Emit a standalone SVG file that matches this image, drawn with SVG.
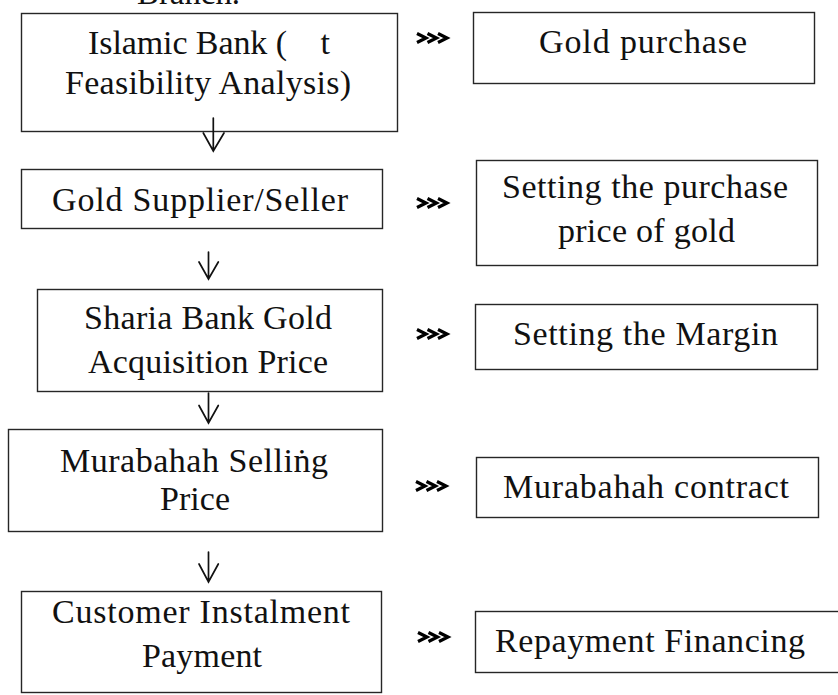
<svg xmlns="http://www.w3.org/2000/svg" width="838" height="695" viewBox="0 0 838 695">
<style>
  .box { fill: #ffffff; stroke: #262626; stroke-width: 1.4; }
  .t { font-family: "Liberation Serif", "Times New Roman", serif; font-size: 34px; fill: #111111; white-space: pre; }
  .arr { fill: none; stroke: #111111; stroke-width: 1.7; stroke-linecap: round; stroke-linejoin: miter; }
  .chev { fill: none; stroke: #000000; stroke-width: 3.2; stroke-linejoin: miter; }
</style>
<defs>
  <path id="triple" class="chev" d="M0,-4.5 L9,0 L0,4.5 M10.5,-4.5 L19.5,0 L10.5,4.5 M21,-4.5 L30,0 L21,4.5"/>
</defs>
<rect width="838" height="695" fill="#ffffff"/>

<text id="top-cut" class="t" x="137" y="4" textLength="103" lengthAdjust="spacingAndGlyphs">Branch.</text>

<g id="node-islamic-bank">
  <rect class="box" x="21.5" y="13.5" width="376" height="118"/>
  <text class="t" x="88" y="54" textLength="242" lengthAdjust="spacing" xml:space="preserve">Islamic Bank (    t</text>
  <text class="t" x="65" y="94" textLength="286" lengthAdjust="spacing">Feasibility Analysis)</text>
</g>
<g id="node-gold-supplier">
  <rect class="box" x="21.5" y="169.5" width="361" height="59"/>
  <text class="t" x="52" y="211" textLength="296" lengthAdjust="spacing">Gold Supplier/Seller</text>
</g>
<g id="node-acquisition-price">
  <rect class="box" x="37.5" y="289.5" width="345" height="102"/>
  <text class="t" x="84" y="329" textLength="248" lengthAdjust="spacing">Sharia Bank Gold</text>
  <text class="t" x="88" y="373" textLength="240" lengthAdjust="spacing">Acquisition Price</text>
</g>
<g id="node-selling-price">
  <rect class="box" x="8.5" y="429.5" width="374" height="102"/>
  <text class="t" x="60" y="472" textLength="268" lengthAdjust="spacing">Murabahah Sellin&#775;g</text>
  <text class="t" x="160" y="510" textLength="70" lengthAdjust="spacing">Price</text>
</g>
<g id="node-instalment">
  <rect class="box" x="21.5" y="591.5" width="360" height="101"/>
  <text class="t" x="52" y="623" textLength="298" lengthAdjust="spacing">Customer Instalment</text>
  <text class="t" x="142" y="667" textLength="120" lengthAdjust="spacing">Payment</text>
</g>

<g id="node-gold-purchase">
  <rect class="box" x="473.5" y="12.5" width="341" height="71"/>
  <text class="t" x="539" y="53" textLength="208" lengthAdjust="spacing">Gold purchase</text>
</g>
<g id="node-purchase-price">
  <rect class="box" x="476.5" y="160.5" width="341" height="105"/>
  <text class="t" x="502" y="198" textLength="286" lengthAdjust="spacing">Setting the purchase</text>
  <text class="t" x="558" y="242" textLength="177" lengthAdjust="spacing">price of gold</text>
</g>
<g id="node-margin">
  <rect class="box" x="475.5" y="304.5" width="342" height="65"/>
  <text class="t" x="513" y="345" textLength="265" lengthAdjust="spacing">Setting the Margin</text>
</g>
<g id="node-contract">
  <rect class="box" x="476.5" y="457.5" width="342" height="60"/>
  <text class="t" x="503" y="498" textLength="286" lengthAdjust="spacing">Murabahah contract</text>
</g>
<g id="node-repayment">
  <rect class="box" x="475.5" y="611.5" width="380" height="61"/>
  <text class="t" x="495" y="652" textLength="310" lengthAdjust="spacing">Repayment Financing</text>
</g>

<g id="connectors">
  <path class="arr" d="M213.3,118 V151 M203.3,133 L213.3,151 L224,133"/>
  <path class="arr" d="M208.5,252 V279 M199,262 L208.5,279 L218.3,262"/>
  <path class="arr" d="M208.5,393 V423 M199,405.5 L208.5,423 L218.3,405.5"/>
  <path class="arr" d="M208.5,552 V582 M199,564 L208.5,582 L218.3,564"/>
  <use href="#triple" x="417" y="38"/>
  <use href="#triple" x="417" y="203"/>
  <use href="#triple" x="417" y="334"/>
  <use href="#triple" x="416" y="486"/>
  <use href="#triple" x="418" y="637"/>
</g>
</svg>
